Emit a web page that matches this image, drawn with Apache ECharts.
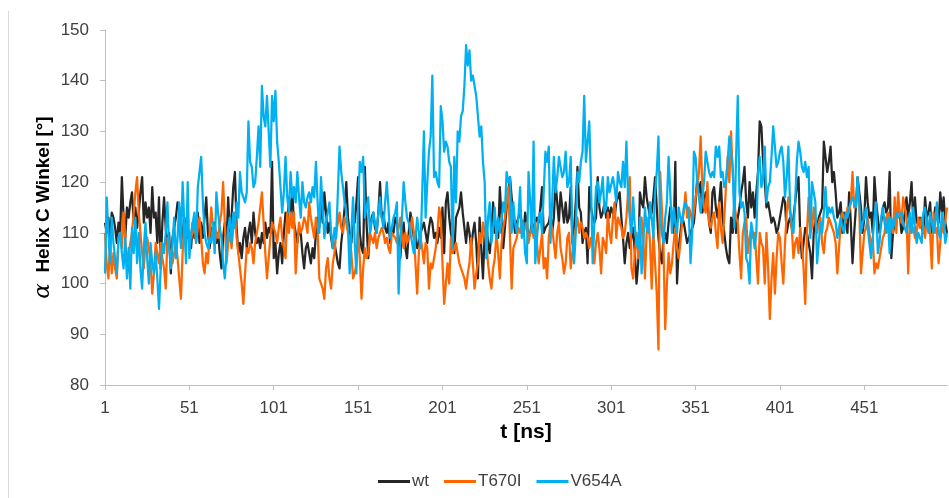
<!DOCTYPE html>
<html>
<head>
<meta charset="utf-8">
<script src="https://cdn.jsdelivr.net/npm/echarts@6/dist/echarts.min.js"></script>
<style>
  html, body { margin: 0; padding: 0; background: #ffffff; }
  #chart { width: 949px; height: 498px; }
</style>
</head>
<body>
<div id="chart"></div>
<script>
// Time axis: one sample per ns, 1..500
const timeLabels = Array.from({ length: 500 }, (_, k) => String(k + 1));

// Helix C angle per ns, wild type
const wt = [
  112,110,113,109,114,113,111,108,112,110,
  121,113,109,115,113,116,118,112,115,111,
  114,118,121,112,116,113,115,110,119,113,
  114,108,117,103,112,117,111,107,110,102,
  109,111,113,116,115,108,110,113,111,109,
  110,107,112,109,111,114,108,112,109,113,
  117,110,107,111,109,112,108,110,106,103,
  109,112,108,117,110,113,119,122,111,106,
  108,105,109,111,107,110,112,108,114,110,
  108,109,107,110,108,112,109,111,110,124,
  105,108,102,106,108,104,110,114,112,117,
  114,118,112,110,108,111,110,106,103,107,
  108,106,104,107,105,110,113,111,116,112,
  118,114,110,112,109,107,108,106,104,103,
  108,111,115,120,113,110,108,113,112,116,
  121,110,107,106,123,112,105,110,113,114,
  111,110,114,120,113,114,111,110,112,108,
  111,110,113,112,109,105,110,112,107,105,
  110,114,112,109,110,107,108,110,111,112,
  110,108,111,113,112,109,110,108,111,109,
  115,106,116,118,113,110,108,106,113,114,
  115,118,114,111,108,112,110,107,110,112,
  108,101,113,107,101,110,112,108,106,110,
  116,110,112,109,119,113,107,111,115,117,
  121,117,113,110,112,112,114,114,110,114,
  112,109,110,112,111,112,113,112,115,119,
  110,111,111,112,114,110,113,120,116,112,
  118,115,112,116,112,113,119,108,111,116,
  123,115,114,108,110,111,104,119,115,113,
  112,113,121,115,113,114,116,113,115,113,
  115,114,113,116,117,118,113,109,104,108,
  110,107,109,111,106,100,104,118,116,115,
  121,117,115,113,114,117,121,115,109,106,
  104,109,110,108,112,115,113,110,124,100,
  107,110,113,112,110,108,109,109,111,112,
  116,121,118,120,114,116,118,117,112,110,
  118,119,115,113,116,120,113,110,107,105,
  104,113,110,116,110,113,115,118,120,123,
  116,113,120,115,118,113,118,122,132,131,
  124,120,115,116,114,112,113,112,110,111,
  113,115,117,116,110,112,113,111,113,116,
  119,121,110,105,108,111,110,108,106,101,
  110,113,111,113,114,115,128,125,122,124,
  127,120,122,118,113,114,116,110,114,112,
  110,118,112,104,110,115,121,121,115,110,
  113,121,116,113,114,110,121,116,113,110,
  112,115,116,114,115,122,105,110,112,113,
  115,114,110,111,114,117,113,116,120,112,
  117,112,112,113,111,110,117,113,114,116,
  110,112,115,113,112,118,114,117,112,110
];

// Helix C angle per ns, T670I mutant
const t670i = [
  110,104,101,108,102,106,103,101,109,110,
  107,114,109,103,106,108,110,114,118,121,
  114,110,106,103,108,109,107,104,98,102,
  108,106,104,108,105,103,99,109,107,106,
  104,106,108,105,101,97,106,112,110,111,
  111,109,110,112,108,111,113,109,104,102,
  106,104,110,115,111,108,110,109,112,114,
  120,112,104,108,110,107,111,114,109,106,
  103,100,96,102,107,106,108,107,104,108,
  110,112,115,118,112,106,101,105,109,112,
  112,110,108,111,113,109,107,105,114,110,
  114,111,114,102,108,112,110,111,113,112,
  110,116,113,111,109,113,111,101,101,99,
  97,103,105,101,99,104,106,110,112,114,
  111,110,113,112,110,109,106,101,102,104,
  110,105,97,103,107,105,106,110,109,108,
  110,107,109,110,111,110,108,109,107,106,
  110,110,109,108,111,113,109,107,110,108,
  109,110,113,110,104,98,106,109,107,104,
  108,107,99,104,103,105,107,110,115,113,
  104,96,100,104,100,109,106,107,108,106,
  104,103,102,101,99,102,104,109,104,99,
  102,104,110,108,112,110,108,104,101,99,
  103,105,110,106,101,108,111,113,116,119,
  109,99,107,108,109,111,110,112,110,111,
  112,108,110,111,109,112,108,104,107,110,
  103,105,101,109,112,111,108,105,110,112,
  107,105,102,104,109,110,103,106,109,111,
  113,110,112,111,109,110,109,107,109,108,
  104,108,110,107,102,109,108,106,114,110,
  108,113,116,109,113,112,111,109,110,113,
  118,121,103,101,106,110,105,107,113,109,
  101,110,113,108,99,110,104,98,87,122,
  115,107,91,100,106,102,104,108,111,107,
  105,108,112,114,118,113,115,114,112,114,
  117,119,122,129,119,115,114,120,112,111,
  113,114,110,107,116,111,108,113,119,125,
  120,130,122,116,113,112,106,101,110,112,
  113,106,109,111,109,110,110,100,110,108,
  107,100,110,103,93,101,106,98,105,110,
  109,104,100,108,114,117,114,111,105,108,
  109,106,111,108,103,96,110,117,110,111,
  115,112,110,112,113,108,106,110,111,113,
  112,111,110,108,102,107,112,114,113,112,
  115,114,116,122,115,117,118,115,102,106,
  110,111,113,110,107,109,102,104,103,103,
  107,109,110,113,114,113,111,110,117,110,
  118,114,112,117,115,113,102,113,110,111,
  109,110,113,111,113,113,109,113,111,110,
  103,114,110,111,104,108,112,110,110,115
];

// Helix C angle per ns, V654A mutant
const v654a = [
  102,117,110,104,113,108,105,102,109,110,
  106,103,109,101,107,99,111,106,113,104,
  110,103,99,107,112,105,100,108,104,102,
  106,101,95,103,108,106,110,116,107,103,
  108,113,105,109,116,107,120,112,104,120,
  105,110,112,114,108,119,122,125,116,110,
  108,107,109,108,112,106,118,114,111,109,
  104,101,106,111,113,108,114,111,116,113,
  122,118,117,116,118,132,124,123,119,120,
  125,131,123,139,133,131,137,130,123,137,
  132,138,128,124,119,114,118,125,117,114,
  122,117,119,116,122,117,113,120,116,115,
  117,118,116,119,117,124,116,110,121,115,
  109,112,114,116,110,107,111,109,118,127,
  122,119,116,114,111,102,110,117,108,102,
  115,124,122,125,113,115,117,110,112,114,
  112,110,114,117,113,111,116,120,115,109,
  111,113,114,116,98,108,113,120,116,113,
  112,110,108,106,109,113,110,107,118,130,
  113,120,126,129,141,121,122,120,119,135,
  132,126,128,127,124,123,107,125,116,130,
  128,133,134,139,147,143,146,140,141,141,
  137,133,129,131,124,120,105,113,116,108,
  111,115,109,113,110,112,116,114,122,120,
  121,110,116,112,110,113,119,109,112,106,
  104,122,116,110,128,104,109,113,114,110,
  118,126,124,127,108,116,125,118,121,125,
  123,121,122,126,119,120,125,108,104,110,
  122,120,124,126,137,124,128,132,120,104,
  112,119,120,116,118,121,114,115,121,118,
  118,121,119,116,122,120,119,124,119,128,
  117,113,110,117,111,108,107,113,102,108,
  115,111,110,116,113,109,118,122,129,113,
  110,108,113,116,125,118,110,115,112,110,
  115,113,112,115,116,115,114,104,110,126,
  125,120,117,114,117,120,126,124,122,121,
  122,121,127,125,127,121,122,119,120,124,
  129,126,123,111,125,137,118,115,116,114,
  105,104,100,112,110,107,110,122,125,119,
  121,127,116,119,120,125,131,127,123,124,
  126,127,124,117,121,127,115,112,110,116,
  124,128,126,123,122,124,121,123,109,120,
  118,116,104,108,112,110,114,119,113,115,
  114,115,113,112,109,111,113,111,110,114,
  113,115,116,117,116,115,121,116,110,112,
  113,115,111,108,105,109,113,116,106,108,
  113,115,112,110,113,106,113,111,112,114,
  113,113,114,112,111,110,112,114,110,115,
  111,108,110,109,108,114,115,112,110,114,
  112,110,112,116,110,109,114,112,108,110
];

const seriesNames = ['wt', 'T670I', 'V654A'];
const seriesColors = ['#262626', '#FF6600', '#00B0F0'];
const seriesData = [wt, t670i, v654a];

const FONT = "'Liberation Sans', Arial, sans-serif";
const AXIS_GRAY = '#BFBFBF';
const TEXT_GRAY = '#404040';

const chart = echarts.init(document.getElementById('chart'), null, { renderer: 'canvas' });

chart.setOption({
  backgroundColor: '#ffffff',
  animation: false,
  textStyle: { fontFamily: FONT },
  graphic: [{
    type: 'line',
    shape: { x1: 8.5, y1: 11, x2: 8.5, y2: 498 },
    style: { stroke: '#D9D9D9', lineWidth: 1 }
  }],
  grid: { left: 105, right: 2, top: 30, bottom: 113, containLabel: false },
  legend: {
    data: seriesNames,
    left: 373,
    top: 468,
    icon: 'rect',
    itemWidth: 32,
    itemHeight: 3,
    itemGap: 15,
    textStyle: { fontFamily: FONT, fontSize: 17, color: TEXT_GRAY, padding: [0, 0, 0, -3] }
  },
  xAxis: {
    type: 'category',
    data: timeLabels,
    boundaryGap: false,
    name: 't [ns]',
    nameLocation: 'middle',
    nameGap: 37,
    nameTextStyle: { fontFamily: FONT, fontSize: 21, fontWeight: 'bold', color: '#000000' },
    axisLine: { lineStyle: { color: AXIS_GRAY, width: 1 } },
    axisTick: { show: true, interval: 49, length: 5, lineStyle: { color: AXIS_GRAY } },
    axisLabel: { interval: 49, margin: 15, fontFamily: FONT, fontSize: 17, color: TEXT_GRAY },
    splitLine: { show: false }
  },
  yAxis: {
    type: 'value',
    min: 80,
    max: 150,
    interval: 10,
    name: '{a|α}  Helix C Winkel [°]',
    nameLocation: 'middle',
    nameMoveOverlap: false,
    nameGap: 50,
    nameTextStyle: {
      fontFamily: FONT, fontSize: 19, fontWeight: 'bold', color: '#000000',
      rich: {
        a: { fontFamily: "'DejaVu Serif', serif", fontStyle: 'italic', fontWeight: 'normal', fontSize: 23, color: '#000000' }
      }
    },
    axisLine: { show: true, lineStyle: { color: AXIS_GRAY, width: 1 } },
    axisTick: { show: true, length: 5, lineStyle: { color: AXIS_GRAY } },
    axisLabel: { margin: 16, fontFamily: FONT, fontSize: 17, color: TEXT_GRAY },
    splitLine: { show: false }
  },
  series: seriesNames.map((name, k) => ({
    name: name,
    type: 'line',
    data: seriesData[k],
    symbol: 'none',
    showSymbol: false,
    lineStyle: { color: seriesColors[k], width: 2.25, join: 'round' },
    itemStyle: { color: seriesColors[k] },
    emphasis: { disabled: true }
  }))
});
</script>
</body>
</html>
